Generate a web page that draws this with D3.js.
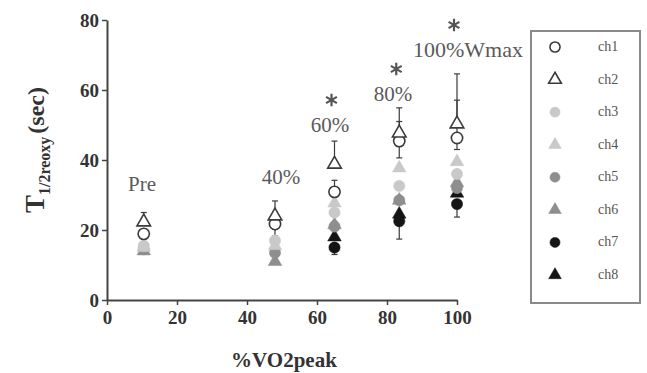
<!DOCTYPE html>
<html>
<head>
<meta charset="utf-8">
<script src="https://cdn.jsdelivr.net/npm/d3@7"></script>
<style>
  body { margin: 0; background: #fff; }
  svg text { font-family: "Liberation Serif", "Times New Roman", serif; }
</style>
</head>
<body>
<svg id="canvas" width="647" height="373"></svg>
<script>
// x position of each exercise stage (%VO2peak)
const stageX = [10.5, 48, 65, 83.5, 100]
const stageLabels = ['Pre', '40%', '60%', '80%', '100%Wmax']
const starred = [false, false, true, true, true]

const channels = ['ch1', 'ch2', 'ch3', 'ch4', 'ch5', 'ch6', 'ch7', 'ch8']
const ch1 = [18.9, 21.7, 30.9, 45.4, 46.3]
const ch2 = [22.3, 24.0, 38.8, 47.7, 50.3]
const ch3 = [15.5, 17.0, 25.0, 32.6, 36.0]
const ch4 = [15.0, 15.5, 27.7, 37.7, 39.5]
const ch5 = [14.5, 13.5, 21.0, 28.5, 32.0]
const ch6 = [14.0, 11.0, 21.5, 28.5, 33.5]
const ch7 = [null, null, 15.0, 22.5, 27.4]
const ch8 = [null, null, 18.0, 24.5, 30.5]
const series = [ch1, ch2, ch3, ch4, ch5, ch6, ch7, ch8]

// error bars (one sided)
const errUp1 = [0, 3.0, 3.3, 5.6, 10.8]
const errDn1 = [0, 3.4, 3.0, 4.8, 3.3]
const errUp2 = [2.7, 4.3, 6.6, 7.2, 14.3]
const errDn7 = [0, 0, 2.0, 5.1, 3.7]

const yTicks = [0, 20, 40, 60, 80]
const xTicks = [0, 20, 40, 60, 80, 100]

const shapes = [d3.symbolCircle, d3.symbolTriangle]
const fills = ['#fff', '#fff', '#c9c9c9', '#c9c9c9', '#8e8e8e', '#8e8e8e', '#151515', '#151515']
const strokes = ['#3a3a3a', '#3a3a3a', '#c9c9c9', '#c9c9c9', '#8e8e8e', '#8e8e8e', '#151515', '#151515']

let canvas = d3.select('#canvas')

let x = d3.scaleLinear().domain([0, 100]).range([107, 457])
let y = d3.scaleLinear().domain([0, 80]).range([300, 20])

let drawAxes = () => {
    let yAxis = canvas.append('g')
        .attr('transform', 'translate(107,0)')
        .call(d3.axisLeft(y).tickValues(yTicks).tickSize(5).tickSizeOuter(0).tickPadding(3))
    let xAxis = canvas.append('g')
        .attr('transform', 'translate(0,300)')
        .call(d3.axisBottom(x).tickValues(xTicks).tickSize(5).tickSizeOuter(0).tickPadding(6))

    ;[yAxis, xAxis].forEach(ax => {
        ax.select('.domain').attr('stroke', '#444').attr('stroke-width', 2)
        ax.selectAll('.tick line').attr('stroke', '#444').attr('stroke-width', 1.5)
        ax.selectAll('.tick text')
            .attr('fill', '#333')
            .style('font-size', '19px')
            .style('font-weight', 'bold')
    })

    // y label: T with subscript
    let lab = canvas.append('text')
        .attr('transform', 'translate(44,150) rotate(-90)')
        .attr('text-anchor', 'middle')
        .attr('fill', '#333')
        .style('font-weight', 'bold')
    lab.append('tspan').text('T').style('font-size', '27px')
    lab.append('tspan').text('1/2reoxy').style('font-size', '16px').attr('dy', 6)
    lab.append('tspan').text('(sec)').style('font-size', '24px').attr('dy', -6).attr('dx', 3)

    canvas.append('text')
        .attr('x', 284)
        .attr('y', 367)
        .attr('text-anchor', 'middle')
        .attr('fill', '#333')
        .style('font-size', '21px')
        .style('font-weight', 'bold')
        .text('%VO2peak')
}

let drawStageLabels = () => {
    let labelY = [191, 184, 132, 101, 57]
    let labelX = [142, 281, 330, 393, 468]
    canvas.selectAll('text.stage')
        .data(stageLabels)
        .enter()
        .append('text')
        .attr('class', 'stage')
        .attr('x', (d, i) => labelX[i])
        .attr('y', (d, i) => labelY[i])
        .attr('text-anchor', 'middle')
        .attr('fill', '#5a5a5a')
        .style('font-size', (d, i) => i === 4 ? '22px' : '21px')
        .text(d => d)

    // significance asterisks
    let starPts = stageX.map((sx, i) => ({ x: sx, ly: labelY[i] })).filter((d, i) => starred[i])
    canvas.selectAll('path.star')
        .data(starPts)
        .enter()
        .append('path')
        .attr('class', 'star')
        .attr('d', d3.symbol().type(d3.symbolAsterisk).size(110))
        .attr('transform', d => `translate(${x(d.x) - 3},${d.ly - 32})`)
        .attr('fill', 'none')
        .attr('stroke', '#555')
        .attr('stroke-width', 2.2)
}

let drawErrors = () => {
    let bars = []
    stageX.forEach((sx, i) => {
        if (errUp2[i]) bars.push({ x: sx, a: ch2[i], b: ch2[i] + errUp2[i] })
        if (errUp1[i]) bars.push({ x: sx, a: ch1[i], b: ch1[i] + errUp1[i] })
        if (errDn1[i]) bars.push({ x: sx, a: ch1[i], b: ch1[i] - errDn1[i] })
        if (errDn7[i]) bars.push({ x: sx, a: ch7[i], b: ch7[i] - errDn7[i] })
    })
    let g = canvas.append('g').attr('stroke', '#3a3a3a').attr('stroke-width', 1.2)
    g.selectAll('line.bar')
        .data(bars)
        .enter()
        .append('line')
        .attr('x1', d => x(d.x))
        .attr('x2', d => x(d.x))
        .attr('y1', d => y(d.a))
        .attr('y2', d => y(d.b))
    g.selectAll('line.cap')
        .data(bars)
        .enter()
        .append('line')
        .attr('x1', d => x(d.x) - 3)
        .attr('x2', d => x(d.x) + 3)
        .attr('y1', d => y(d.b))
        .attr('y2', d => y(d.b))
}

let drawPoints = () => {
    // draw dark/grey channels first, open markers last
    let order = [7, 6, 5, 4, 3, 2, 0, 1]
    order.forEach(c => {
        let pts = stageX.map((sx, i) => ({ x: sx, v: series[c][i] })).filter(d => d.v !== null)
        canvas.selectAll('path.p' + c)
            .data(pts)
            .enter()
            .append('path')
            .attr('class', 'p' + c)
            .attr('d', d3.symbol().type(shapes[c % 2]).size(c % 2 ? 80 : 100))
            .attr('transform', d => `translate(${x(d.x)},${y(d.v)})`)
            .attr('fill', fills[c])
            .attr('stroke', strokes[c])
            .attr('stroke-width', c < 2 ? 1.6 : 0.5)
    })
}

let drawLegend = () => {
    canvas.append('rect')
        .attr('x', 531)
        .attr('y', 31)
        .attr('width', 109)
        .attr('height', 272)
        .attr('fill', 'none')
        .attr('stroke', '#8a8a8a')
        .attr('stroke-width', 2)

    let rowY = d3.scaleLinear().domain([0, 7]).range([47, 275])
    canvas.selectAll('path.leg')
        .data(channels)
        .enter()
        .append('path')
        .attr('class', 'leg')
        .attr('d', (d, i) => d3.symbol().type(shapes[i % 2]).size(i % 2 ? 70 : 80)())
        .attr('transform', (d, i) => `translate(555,${rowY(i)})`)
        .attr('fill', (d, i) => fills[i])
        .attr('stroke', (d, i) => strokes[i])
        .attr('stroke-width', (d, i) => i < 2 ? 1.6 : 0.5)

    canvas.selectAll('text.leg')
        .data(channels)
        .enter()
        .append('text')
        .attr('class', 'leg')
        .attr('x', 598)
        .attr('y', (d, i) => rowY(i) + 4)
        .attr('fill', '#555')
        .style('font-size', '14px')
        .text(d => d)
}

drawAxes()
drawErrors()
drawPoints()
drawStageLabels()
drawLegend()
</script>
</body>
</html>
